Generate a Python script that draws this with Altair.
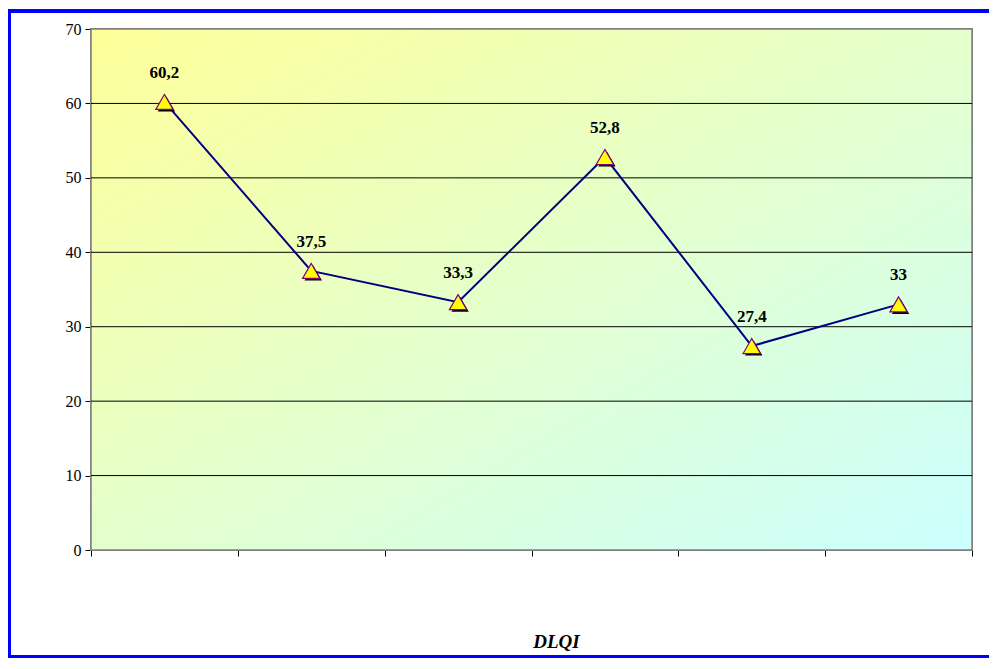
import altair as alt
import pandas as pd

categories = ["1", "2", "3", "4", "5", "6"]
values = [60.2, 37.5, 33.3, 52.8, 27.4, 33.0]
labels = ["60,2", "37,5", "33,3", "52,8", "27,4", "33"]
y_ticks = [0, 10, 20, 30, 40, 50, 60, 70]
grid_values = [10, 20, 30, 40, 50, 60]

df = pd.DataFrame({"cat": categories, "value": values, "label": labels})
grid_df = pd.DataFrame({"value": grid_values})

W, H = 881, 521

x_enc = alt.X("cat:N", sort=categories,
              scale=alt.Scale(paddingInner=0, paddingOuter=0),
              axis=alt.Axis(title="DLQI", labels=False, tickBand="extent",
                            domainColor="black", domainWidth=1, tickColor="black",
                            tickSize=6, grid=False,
                            titleFont="Liberation Serif", titleFontSize=19,
                            titleFontStyle="italic", titleFontWeight="bold",
                            titleColor="black", titleX=465, titleY=91,
                            titleBaseline="middle", titleAlign="center"))
y_scale = alt.Scale(domain=[0, 70], nice=False, zero=True)
y_enc = alt.Y("value:Q", scale=y_scale,
              axis=alt.Axis(title=None, values=y_ticks,
                            labelFont="Liberation Serif", labelFontSize=16,
                            labelColor="black", labelPadding=4,
                            domainColor="black", tickColor="black", tickSize=6,
                            grid=False))

bg = alt.Chart(df).mark_rect(
    fill=alt.Gradient(gradient="linear", x1=0, y1=0, x2=1, y2=1,
                      stops=[alt.GradientStop(color="#FFFF99", offset=0),
                             alt.GradientStop(color="#E4FFCC", offset=0.5),
                             alt.GradientStop(color="#CCFFFF", offset=1)]),
    stroke="#808080", strokeWidth=1.5
).encode(x=alt.value(0), x2=alt.value(W), y=alt.value(0), y2=alt.value(H))

grid = alt.Chart(grid_df).mark_rule(color="black", strokeWidth=1).encode(
    y=alt.Y("value:Q", scale=y_scale), x=alt.value(0), x2=alt.value(W))

border = alt.Chart(df).mark_rect(fill=None, stroke="#0000FF", strokeWidth=4, clip=False).encode(
    x=alt.value(-82), x2=alt.value(930), y=alt.value(-18), y2=alt.value(628))

base = alt.Chart(df).encode(x=x_enc, y=y_enc)

line = base.mark_line(color="#000080", strokeWidth=2)
shadow = base.mark_point(shape="triangle-up", size=300, filled=True, color="black",
                         opacity=1, xOffset=2, yOffset=2)
tri = base.mark_point(shape="triangle-up", size=300, filled=True, fill="#FFFF00",
                      stroke="#800080", strokeWidth=1.2, opacity=1)
text = base.mark_text(font="Liberation Serif", fontSize=17, fontWeight="bold",
                      color="black", dy=-29).encode(text="label:N")

chart = alt.layer(bg, grid, border, line, shadow, tri, text).properties(
    width=W, height=H,
    autosize=alt.AutoSizeParams(type="none"),
    padding={"left": 83, "top": 21, "right": 17, "bottom": 108},
).configure_view(stroke=None).configure(background="white")

chart.save("out.html", embed_options={"renderer": "svg", "actions": False})
